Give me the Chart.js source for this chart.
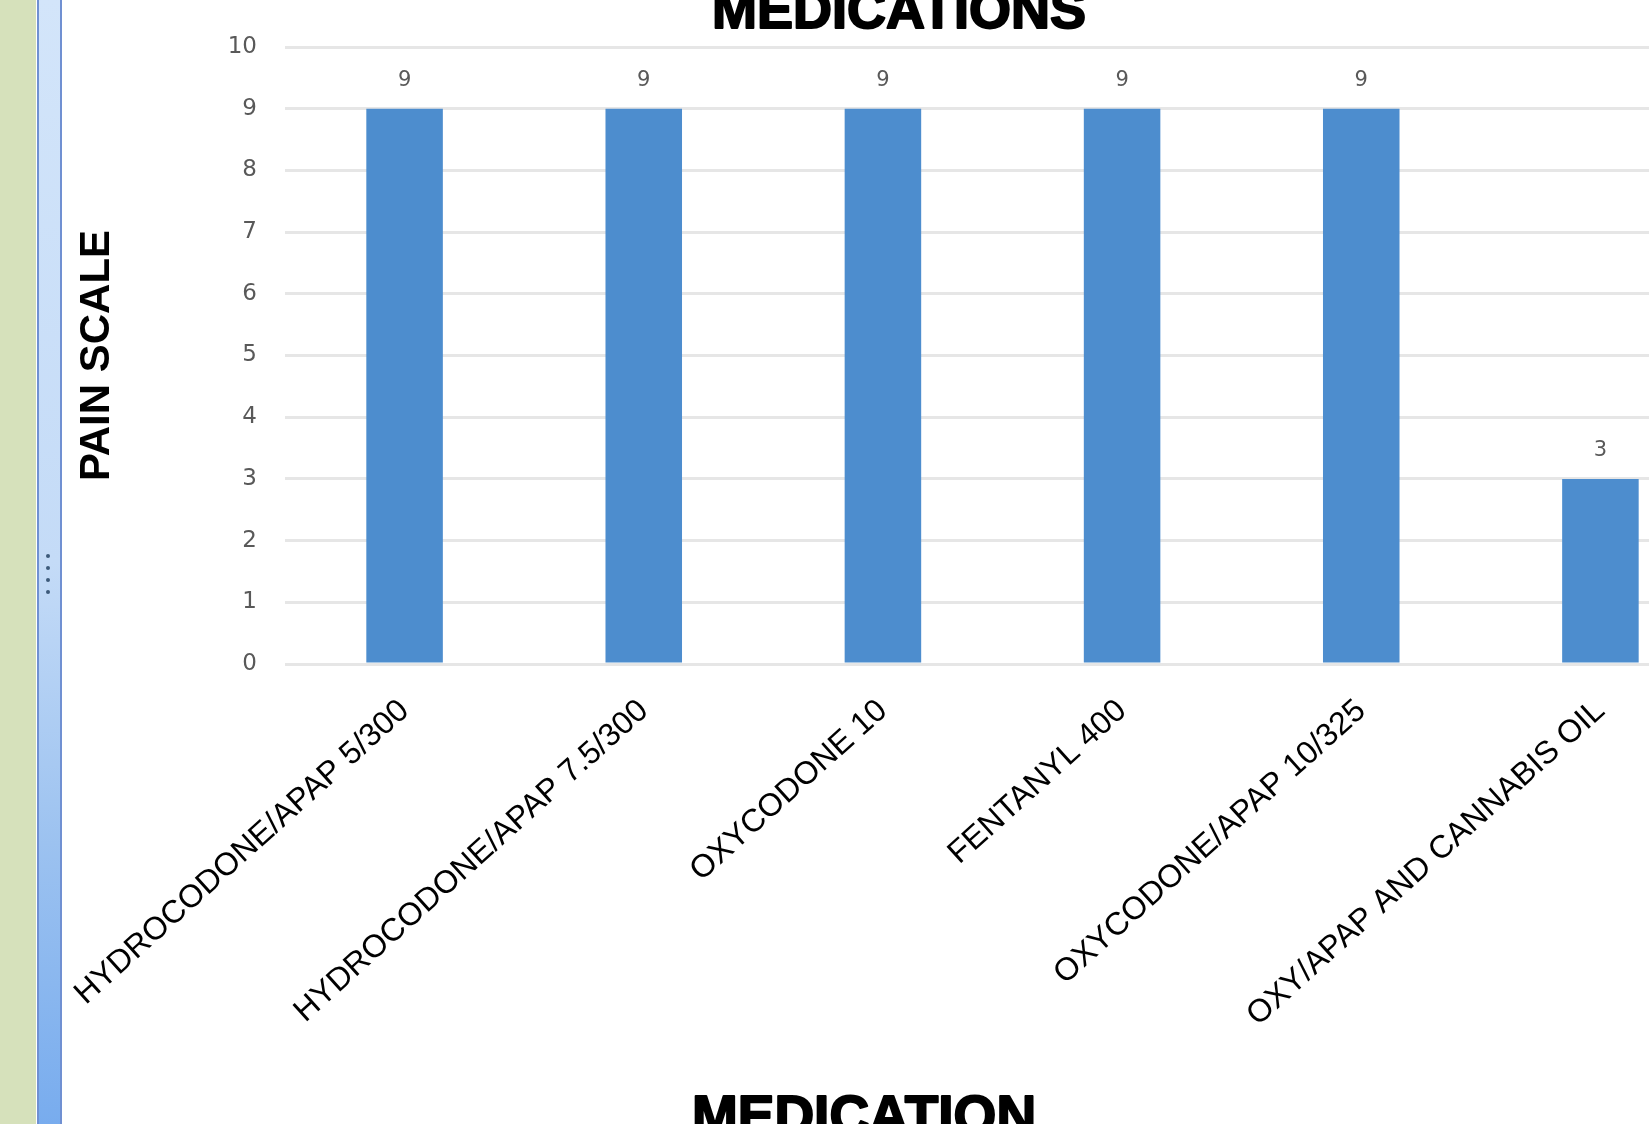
<!DOCTYPE html>
<html>
<head>
<meta charset="utf-8">
<title>Medications</title>
<script src="https://cdn.jsdelivr.net/npm/chart.js@4.4.1/dist/chart.umd.min.js"></script>
<style>
  html, body { margin: 0; padding: 0; width: 1649px; height: 1124px; overflow: hidden; background: #fff; }
  #wrap { position: absolute; left: 0; top: -20px; width: 1800px; height: 1160px; }
  #side { position: absolute; left: 0; top: 0; width: 36px; height: 1124px; background: #d6e1bb; z-index: 2; }
  #splitter {
    position: absolute; left: 37px; top: 0; width: 21px; height: 1124px; z-index: 2;
    border-left: 2px solid #7090d2; border-right: 2px solid #7090d2;
    background: linear-gradient(to bottom, #d3e5fa 0%, #c4dbf7 50%, #9cc2f0 75%, #78acee 100%);
  }
  .dot { position: absolute; left: 46px; width: 4px; height: 4px; border-radius: 2px; background: #3d5a7a; z-index: 3; }
</style>
</head>
<body>
<div id="side"></div>
<div id="splitter"></div>
<div class="dot" style="top:554px"></div>
<div class="dot" style="top:566px"></div>
<div class="dot" style="top:578px"></div>
<div class="dot" style="top:590px"></div>
<div id="wrap"><canvas id="chartPain"></canvas></div>
<script>
const categories = [
    'HYDROCODONE/APAP 5/300',
    'HYDROCODONE/APAP 7.5/300',
    'OXYCODONE 10',
    'FENTANYL 400',
    'OXYCODONE/APAP 10/325',
    'OXY/APAP AND CANNABIS OIL'
];
const painScale = [9, 9, 9, 9, 9, 3];
const yMin = 0;
const yMax = 10;
const yStep = 1;

// value above each bar
const valueLabels = {
    id: 'valueLabels',
    afterDatasetsDraw(chart) {
        const ctx = chart.ctx;
        const meta = chart.getDatasetMeta(0);
        ctx.save();
        ctx.font = '21px "DejaVu Sans"';
        ctx.fillStyle = '#595959';
        ctx.textAlign = 'center';
        ctx.textBaseline = 'middle';
        meta.data.forEach((bar, i) => {
            ctx.fillText(String(painScale[i]), bar.x, bar.y - 28);
        });
        ctx.restore();
    }
};

// chart title and x axis title, drawn heavy like the original (black face)
function heavyText(ctx, text, x, y, size) {
    ctx.save();
    ctx.font = 'bold ' + size + 'px "Liberation Sans", Arial';
    ctx.fillStyle = '#000';
    ctx.strokeStyle = '#000';
    ctx.lineWidth = 2;
    ctx.lineJoin = 'round';
    ctx.textAlign = 'center';
    ctx.textBaseline = 'alphabetic';
    ctx.fillText(text, x, y);
    ctx.strokeText(text, x, y);
    ctx.restore();
}

const titles = {
    id: 'titles',
    afterDraw(chart) {
        heavyText(chart.ctx, 'MEDICATIONS', 899, 48, 54);
        heavyText(chart.ctx, 'MEDICATION', 864, 1154, 55);
    }
};

const ctxPain = document.getElementById('chartPain').getContext('2d');

new Chart(ctxPain, {
    type: 'bar',
    data: {
        labels: categories,
        datasets: [{
            label: 'PAIN SCALE',
            data: painScale,
            backgroundColor: '#4d8dce',
            borderWidth: 0,
            categoryPercentage: 1,
            barPercentage: 0.32
        }]
    },
    options: {
        responsive: true,
        maintainAspectRatio: false,
        animation: false,
        layout: {
            padding: { left: 63, right: 80, top: 67, bottom: 0 }
        },
        plugins: {
            legend: { display: false },
            tooltip: { enabled: false },
            title: { display: false }
        },
        scales: {
            y: {
                min: yMin,
                max: yMax,
                afterFit(scale) { scale.width = 222; },
                ticks: {
                    stepSize: yStep,
                    padding: 28,
                    color: '#595959',
                    font: { family: '"DejaVu Sans"', size: 23 }
                },
                grid: { color: '#e6e6e6', lineWidth: 3, drawTicks: false },
                border: { display: false },
                title: {
                    display: true,
                    text: 'PAIN SCALE',
                    color: '#000',
                    font: { family: '"Liberation Sans", Arial', size: 42, weight: 'bold', lineHeight: 1 },
                    padding: { top: 13, bottom: 0 }
                }
            },
            x: {
                afterFit(scale) { scale.height = 476; },
                ticks: {
                    autoSkip: false,
                    minRotation: 42,
                    maxRotation: 42,
                    padding: 20,
                    color: '#000',
                    font: { family: '"Liberation Sans", Arial', size: 32 }
                },
                grid: { display: false },
                border: { display: false }
            }
        }
    },
    plugins: [valueLabels, titles]
});
</script>
</body>
</html>
